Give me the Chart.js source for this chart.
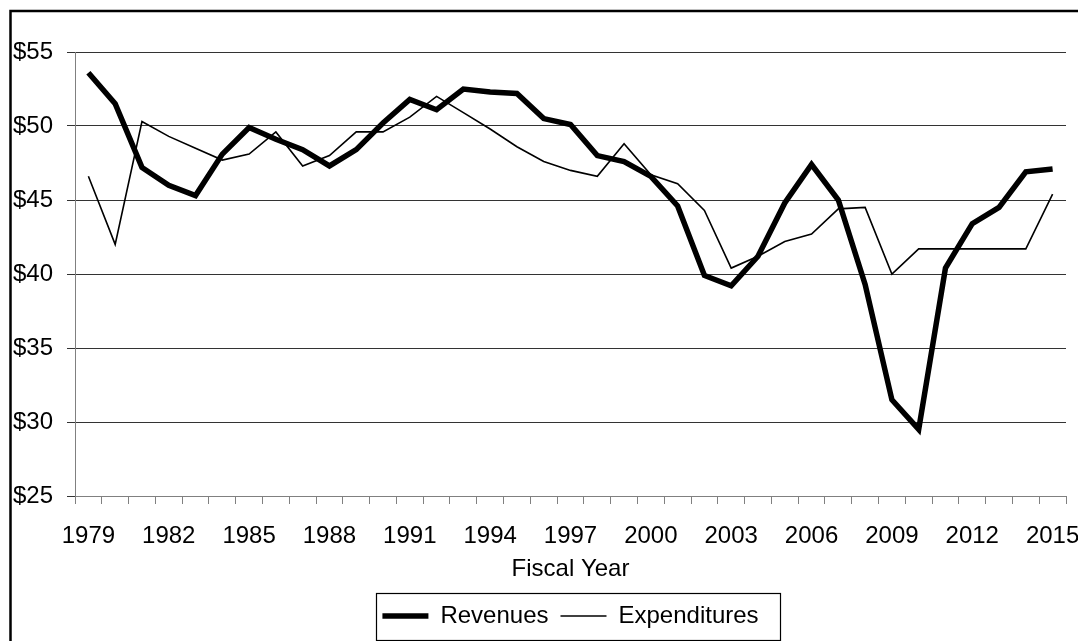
<!DOCTYPE html>
<html>
<head>
<meta charset="utf-8">
<style>
  html, body { margin: 0; padding: 0; background: #fff; }
  #wrap { width: 1078px; height: 641px; position: relative; }
</style>
<script src="https://cdn.jsdelivr.net/npm/chart.js@4/dist/chart.umd.min.js"></script>
</head>
<body>
<div id="wrap"><canvas id="c" width="1078" height="641"></canvas></div>
<script>
const years = [1979,1980,1981,1982,1983,1984,1985,1986,1987,1988,1989,1990,1991,1992,1993,1994,1995,1996,1997,1998,1999,2000,2001,2002,2003,2004,2005,2006,2007,2008,2009,2010,2011,2012,2013,2014,2015];
const revenues = [53.6,51.5,47.2,46.0,45.3,48.1,49.9,49.1,48.4,47.3,48.4,50.2,51.8,51.1,52.5,52.3,52.2,50.5,50.1,48.0,47.6,46.6,44.6,39.9,39.2,41.2,44.8,47.4,45.0,39.3,31.5,29.5,40.4,43.4,44.5,46.9,47.1];
const expenditures = [46.6,42.0,50.3,49.3,48.5,47.7,48.1,49.6,47.3,48.0,49.6,49.6,50.6,52.0,50.9,49.8,48.6,47.6,47.0,46.6,48.8,46.7,46.1,44.3,40.4,41.2,42.2,42.7,44.4,44.5,40.0,41.7,41.7,41.7,41.7,41.7,45.4];
const yTicks = [25,30,35,40,45,50,55];
const seriesNames = ['Revenues','Expenditures'];
const xTitle = 'Fiscal Year';

const FONT = 'Liberation Sans, Arial, Helvetica, sans-serif';

const framePlugin = {
  id: 'frame',
  afterDraw(chart) {
    const ctx = chart.ctx;
    ctx.save();
    ctx.strokeStyle = '#000';
    ctx.lineWidth = 2.5;
    ctx.strokeRect(10.5, 11, 2000, 2000);
    // legend border
    const lg = chart.legend;
    if (lg && lg.legendHitBoxes && lg.legendHitBoxes.length) {
      const hb = lg.legendHitBoxes;
      let l = Infinity, r = -Infinity, t = Infinity, b = -Infinity;
      hb.forEach(h => { l = Math.min(l, h.left); r = Math.max(r, h.left + h.width); t = Math.min(t, h.top); b = Math.max(b, h.top + h.height); });
      const cy = (t + b) / 2;
      ctx.lineWidth = 1.2;
      ctx.strokeRect(Math.round(l - 6) + 0.5, Math.round(cy - 23.5) + 0.5, Math.round(r - l + 28), 47);
    }
    ctx.restore();
  }
};

new Chart(document.getElementById('c'), {
  type: 'line',
  data: {
    labels: years.map(String),
    datasets: [
      { label: seriesNames[0], data: revenues, borderColor: '#000', backgroundColor: '#000', borderWidth: 5.5, pointRadius: 0, tension: 0, fill: false },
      { label: seriesNames[1], data: expenditures, borderColor: '#000', backgroundColor: '#000', borderWidth: 1.6, pointRadius: 0, tension: 0, fill: false }
    ]
  },
  options: {
    responsive: false,
    animation: false,
    devicePixelRatio: 1,
    layout: { padding: { left: 0, right: 12, top: 52, bottom: 3 } },
    plugins: {
      tooltip: { enabled: false },
      legend: {
        position: 'bottom',
        fullSize: false,
        labels: {
          usePointStyle: true,
          pointStyle: 'line',
          pointStyleWidth: 46,
          padding: 12,
          color: '#000',
          font: { family: FONT, size: 24 }
        }
      }
    },
    scales: {
      x: {
        type: 'category',
        offset: true,
        grid: { offset: true, drawOnChartArea: false, drawTicks: true, tickLength: 8, color: '#808080', lineWidth: 1 },
        border: { color: '#808080', width: 1 },
        ticks: {
          autoSkip: false, maxRotation: 0, minRotation: 0,
          padding: 18,
          color: '#000',
          font: { family: FONT, size: 24 },
          callback: (v, i) => (i % 3 === 0 ? years[i] : '')
        },
        title: { display: true, text: xTitle, color: '#000', font: { family: FONT, size: 24 }, padding: { top: 0, bottom: 8 } },
        afterFit: (s) => { s.height = 96; s.paddingLeft = 0; s.paddingRight = 0; }
      },
      y: {
        min: 25, max: 55,
        afterBuildTicks: (s) => { s.ticks = yTicks.map(v => ({ value: v })); },
        grid: { color: '#333', lineWidth: 1, tickLength: 8, drawTicks: true },
        border: { color: '#808080', width: 1 },
        ticks: {
          padding: 14,
          color: '#000',
          font: { family: FONT, size: 24 },
          callback: (v) => '$' + v
        },
        afterFit: (s) => { s.width = 75; s.paddingTop = 0; s.paddingBottom = 0; }
      }
    }
  },
  plugins: [framePlugin]
});
</script>
</body>
</html>
